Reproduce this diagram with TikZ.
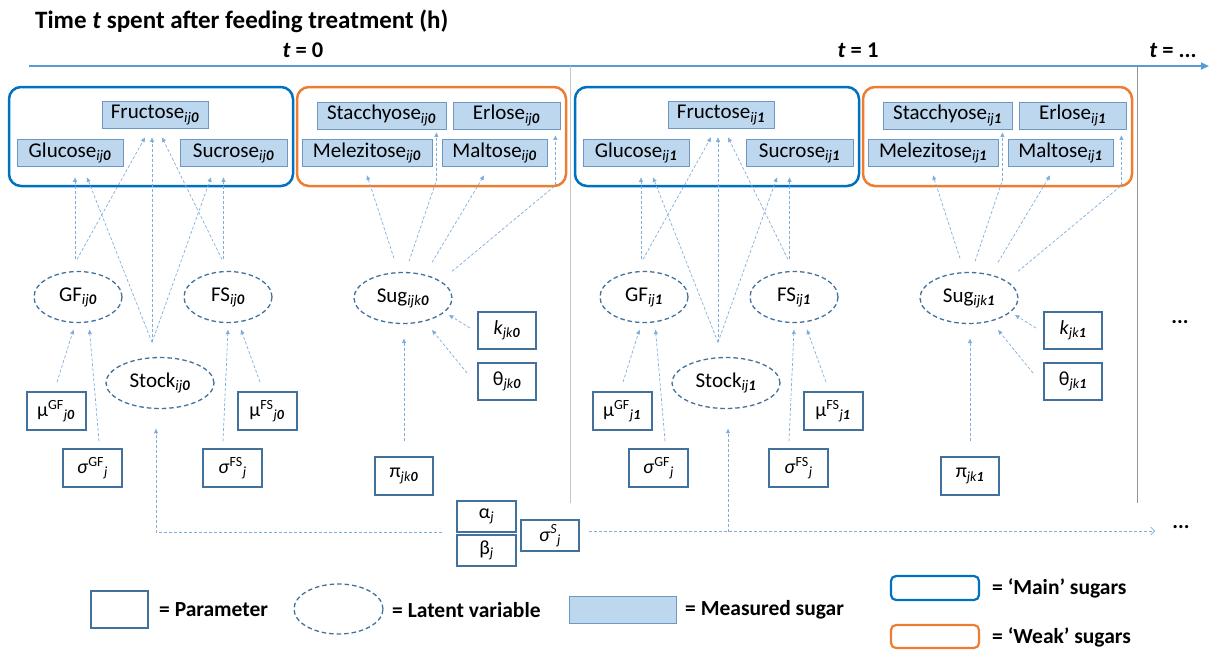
\documentclass[tikz,border=0pt]{standalone}
\usepackage{fontspec}
\setmainfont{Carlito}
\usetikzlibrary{arrows.meta,calc,shapes.geometric}
\definecolor{mainblue}{HTML}{0070C0}
\definecolor{weakorange}{HTML}{ED7D31}
\definecolor{parblue}{HTML}{41719C}
\definecolor{measfill}{HTML}{BDD7EE}
\definecolor{measdraw}{HTML}{6E97C4}
\definecolor{connblue}{HTML}{7FAEDC}
\definecolor{axisblue}{HTML}{5B9BD5}
\newcommand{\sbb}[2]{\textsubscript{\textit{#1}\textbf{\textit{#2}}}}
\newcommand{\sbj}{\textsubscript{\textit{j}}}
\begin{document}
\begin{tikzpicture}[x=1pt,y=-1pt,
  txt/.style={font=\fontsize{21}{25}\selectfont},
  meas/.style={txt,draw=measdraw,fill=measfill,line width=0.8pt,inner sep=0pt,minimum height=27pt},
  param/.style={font=\fontsize{20}{24}\selectfont,draw=parblue,line width=2pt,inner sep=0pt,minimum width=58pt,minimum height=37pt},
  latent/.style={txt,ellipse,draw=parblue,line width=1.3pt,dash pattern=on 4.5pt off 3pt,inner sep=0pt,minimum width=88pt,minimum height=51pt},
  grpmain/.style={draw=mainblue,line width=2.5pt,rounded corners=12pt,inner sep=0pt},
  grpweak/.style={draw=weakorange,line width=2.5pt,rounded corners=12pt,inner sep=0pt},
  conn/.style={draw=connblue,line width=0.7pt,dash pattern=on 3pt off 2pt,-{Triangle[length=4.5pt,width=4pt]}},
  lbl/.style={font=\bfseries\fontsize{21.5}{25}\selectfont,inner sep=0pt},
  tlabel/.style={font=\bfseries\fontsize{22.5}{26}\selectfont,inner sep=0pt}]
\useasboundingbox (0,0) rectangle (1209,649);

% title and time axis
\node[tlabel,anchor=west,font=\bfseries\fontsize{25}{29}\selectfont] (title) at (35,21) {Time \textit{t} spent after feeding treatment (h)};
\node[tlabel] (t0) at (303,50) {\textit{t} = 0};
\node[tlabel] (t1) at (858,50) {\textit{t} = 1};
\node[tlabel] (tn) at (1173,50) {\textit{t} = ...};
\coordinate (axL) at (29,66);
\coordinate (axR) at (1209,66);
\draw[axisblue,line width=2pt,-{Triangle[length=8pt,width=7pt]}] (axL) -- (axR);
\coordinate (sepAt) at (570,66);
\coordinate (sepAb) at (570,503);
\coordinate (sepBt) at (1137,66);
\coordinate (sepBb) at (1137,503);
\draw[gray!45,line width=0.8pt] (sepAt) -- (sepAb);
\draw[gray!85,line width=0.8pt] (sepBt) -- (sepBb);

\foreach \n in {0,1}{
\begin{scope}[xshift=\n*566pt]
  \node[grpmain,minimum width=284pt,minimum height=99pt] (gm\n) at (151,136.5) {};
  \node[grpweak,minimum width=269pt,minimum height=99pt] (gw\n) at (431.5,136.5) {};
  \node[meas,minimum width=106pt] (fru\n) at (155,115) {Fructose\sbb{ij}{\n}};
  \node[meas,minimum width=106pt] (glu\n) at (70,153) {Glucose\sbb{ij}{\n}};
  \node[meas,minimum width=107pt] (suc\n) at (233.5,153) {Sucrose\sbb{ij}{\n}};
  \node[meas,minimum width=129pt] (sta\n) at (381.5,115.5) {Stacchyose\sbb{ij}{\n}};
  \node[meas,minimum width=107pt] (erl\n) at (506.5,115.5) {Erlose\sbb{ij}{\n}};
  \node[meas,minimum width=130pt] (mel\n) at (367,153) {Melezitose\sbb{ij}{\n}};
  \node[meas,minimum width=105pt] (mal\n) at (494.5,153) {Maltose\sbb{ij}{\n}};
  \node[latent] (gf\n) at (78,297) {GF\sbb{ij}{\n}};
  \node[latent] (fs\n) at (228,297) {FS\sbb{ij}{\n}};
  \node[latent,minimum width=108pt] (stock\n) at (160,383) {Stock\sbb{ij}{\n}};
  \node[latent,minimum width=98pt] (sug\n) at (403,298) {Sug\sbb{ijk}{\n}};
  \node[param,minimum width=59pt,minimum height=38pt] (mugf\n) at (56,411) {μ\textsuperscript{GF}\sbb{j}{\n}};
  \node[param,minimum width=59pt,minimum height=38pt] (sigf\n) at (92.5,468) {\textit{σ}\textsuperscript{GF}\sbj};
  \node[param,minimum width=59pt,minimum height=38pt] (mufs\n) at (267,411) {μ\textsuperscript{FS}\sbb{j}{\n}};
  \node[param,minimum width=59pt,minimum height=38pt] (sifs\n) at (232.5,468) {\textit{σ}\textsuperscript{FS}\sbj};
  \node[param] (k\n) at (507,330) {\textit{k}\sbb{jk}{\n}};
  \node[param] (th\n) at (507,381) {θ\sbb{jk}{\n}};
  \node[param,minimum height=38pt] (pi\n) at (404,476) {π\sbb{jk}{\n}};
\end{scope}
}

% shared parameters
\node[param,minimum width=59pt,minimum height=31pt] (alpha) at (486.5,516.5) {α\sbj};
\node[param,minimum width=59pt,minimum height=31pt] (beta) at (486.5,550.5) {β\sbj};
\node[param,minimum width=58pt,minimum height=31pt] (sigS) at (550,535.5) {\textit{σ}\textsuperscript{\textit{S}}\sbj};
\node[lbl] (dotsA) at (1180,322) {...};
\node[lbl] (dotsB) at (1181,527) {...};

% connectors
\foreach \n in {0,1}{
  \draw[conn] ($(gf\n.north)+(-3,-11.5)$) -- ($(glu\n.south)+(5,10.5)$);
  \draw[conn] ($(gf\n.north)+(-1,-11.5)$) -- ($(fru\n.south)+(-10,8.5)$);
  \draw[conn] ($(stock\n.north)+(-8,-14.5)$) -- ($(glu\n.south)+(17,10.5)$);
  \draw[conn] ($(stock\n.north)+(-8,-14.5)$) -- ($(fru\n.south)+(-3,8.5)$);
  \draw[conn] ($(stock\n.north)+(-8,-14.5)$) -- ($(suc\n.south)+(-22.5,10.5)$);
  \draw[conn] ($(fs\n.north)+(-4.5,-11.5)$) -- ($(suc\n.south)+(-10,10.5)$);
  \draw[conn] ($(fs\n.north)+(-6,-11.5)$) -- ($(fru\n.south)+(7,8.5)$);
  \draw[conn] ($(sug\n.north)+(-9,-13.5)$) -- ($(mel\n.south)+(0,8.5)$);
  \draw[conn] ($(sug\n.north)+(6,-10.5)$) -- ($(sta\n.south east)+(-10,51)$) -- ($(sta\n.south east)+(-10,3)$);
  \draw[conn] ($(sug\n.north)+(29,-9.5)$) -- ($(mal\n.south)+(-10.5,8.5)$);
  \draw[conn] ($(sug\n.north)+(49,-0.5)$) -- ($(erl\n.south east)+(-5,56)$) -- ($(erl\n.south east)+(-5,6)$);
  \draw[conn] ($(k\n.west)+(-7,-2)$) -- ($(sug\n.center)+(46,17)$);
  \draw[conn] ($(th\n.west)+(-10,-8)$) -- ($(sug\n.center)+(29,32)$);
  \draw[conn] ($(pi\n.north)+(0,-15)$) -- ($(sug\n.south)+(1,14.5)$);
  \draw[conn] ($(mugf\n.north)+(1,-9)$) -- ($(gf\n.south)+(-4.5,6.5)$);
  \draw[conn] ($(sigf\n.north)+(6.5,-7)$) -- ($(gf\n.south)+(11.5,6.5)$);
  \draw[conn] ($(sifs\n.north)+(-9.5,-7)$) -- ($(fs\n.south)+(0,6.5)$);
  \draw[conn] ($(mufs\n.north)+(-7,-9)$) -- ($(fs\n.south)+(13,6.5)$);
}
\draw[conn] ($(alpha.south west)+(-14,-1)$) -| ($(stock0.south)+(-4,19.5)$);
\coordinate (bEnd) at (1155,531);
\draw[conn,-{Straight Barb[length=4pt,width=8pt]}] ($(sigS.east)+(9,-4.5)$) -- (bEnd);
\draw[conn] ($(stock1.south)+(2,122.5)$) -- ($(stock1.south)+(2,19.5)$);

% legend
\node[param,minimum width=57pt,minimum height=37pt] (lgPar) at (119.5,609.5) {};
\node[lbl,anchor=west] (lgParT) at (159,610) {= Parameter};
\node[latent,minimum width=89pt,minimum height=50pt] (lgLat) at (338.5,609) {};
\node[lbl,anchor=west] (lgLatT) at (392,610) {= Latent variable};
\node[meas,minimum width=107pt] (lgMeas) at (622.5,609.5) {};
\node[lbl,anchor=west] (lgMeasT) at (685,610) {= Measured sugar};
\node[grpmain,line width=2.2pt,rounded corners=5pt,minimum width=88pt,minimum height=24pt] (lgMain) at (935,588) {};
\node[lbl,anchor=west] (lgMainT) at (992,588) {= ‘Main’ sugars};
\node[grpweak,line width=2.2pt,rounded corners=5pt,minimum width=88pt,minimum height=23pt] (lgWeak) at (935,636.5) {};
\node[lbl,anchor=west] (lgWeakT) at (992,637) {= ‘Weak’ sugars};
\end{tikzpicture}
\end{document}
